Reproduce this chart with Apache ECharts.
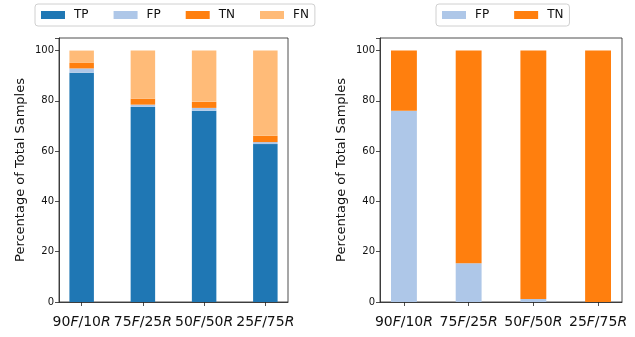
<!DOCTYPE html>
<html><head><meta charset="utf-8">
<script src="https://cdn.jsdelivr.net/npm/echarts@6/dist/echarts.min.js"></script>
<style>html,body{margin:0;padding:0;background:#fff}#c{width:635px;height:337px}</style>
</head><body><div id="c"></div>
<script>
// ---- data ----
const categories = ['90F/10R', '75F/25R', '50F/50R', '25F/75R'];
const leftTP = [91.2, 77.6, 76.1, 62.8];
const leftFP = [1.7, 0.9, 1.1, 0.8];
const leftTN = [2.2, 2.4, 2.4, 2.5];
const leftFN = [4.9, 19.1, 20.4, 33.9];
const rightFP = [76.1, 15.4, 1.2, 0];
const rightTN = [23.9, 84.6, 98.8, 100];
const yTicks = [0, 20, 40, 60, 80, 100];

// ---- styles / layout ----
const COLORS = {TP: '#1f77b4', FP: '#aec7e8', TN: '#ff7f0e', FN: '#ffbb78'};
const FONT = 'DejaVu Sans';
const W = 635;
const SPAN = 3.74; // matplotlib x-range in category units
const frameL = {left: 59, right: 347, top: 38, bottom: 35};
const frameR = {left: 380, right: 13, top: 38, bottom: 35};
function barGrid(f) {
  const w = W - f.left - f.right;
  const extra = (4 * w / SPAN - w) / 2;
  return {left: f.left - extra, right: f.right - extra, top: f.top, bottom: f.bottom, show: false};
}
const LINE = {color: '#222', width: 0.8};

function frameX(gi) {
  return {type: 'value', gridIndex: gi, min: 0, max: 1,
    axisLine: {show: true, onZero: false, lineStyle: LINE},
    axisTick: {show: false}, axisLabel: {show: false}, splitLine: {show: false}};
}
function frameY(gi) {
  return {
    type: 'value', gridIndex: gi, min: 0, max: 105, interval: 20,
    name: 'Percentage of Total Samples', nameLocation: 'middle', nameGap: 32,
    nameTextStyle: {fontFamily: FONT, fontSize: 13, color: '#111'},
    splitLine: {show: false},
    axisLine: {show: true, onZero: false, lineStyle: LINE},
    axisTick: {show: true, length: 4, inside: false, lineStyle: LINE},
    axisLabel: {fontFamily: FONT, fontSize: 10, color: '#111', margin: 5,
      formatter: v => yTicks.includes(v) ? String(v) : ''}
  };
}
function barX(gi) {
  return {
    type: 'category', gridIndex: gi, data: categories, boundaryGap: true,
    axisLine: {show: false},
    axisTick: {show: true, interval: 0, alignWithLabel: true, length: 4, inside: false, lineStyle: LINE},
    axisLabel: {
      show: true, interval: 0, hideOverlap: false, margin: 13, color: '#111', fontFamily: FONT, fontSize: 14,
      formatter: c => c.replace(/([FR])/g, '{i|$1}'),
      rich: {i: {fontStyle: 'italic', fontFamily: FONT, fontSize: 14, color: '#111'}}
    }
  };
}
function barY(gi) {
  return {type: 'value', gridIndex: gi, min: 0, max: 105, show: false,
    axisLine: {show: false}, splitLine: {show: false}};
}
function bar(name, vals, gi, stack) {
  return {
    type: 'bar', name: name, xAxisIndex: gi, yAxisIndex: gi, stack: stack,
    barWidth: '40%', itemStyle: {color: COLORS[name]},
    data: vals, animation: false
  };
}
const legendCommon = {
  top: 4, itemWidth: 24, itemHeight: 8, itemGap: 25, icon: 'rect',
  padding: [5, 6], borderColor: '#d0d0d0', borderWidth: 1, borderRadius: 3,
  textStyle: {fontFamily: FONT, fontSize: 12, color: '#111', padding: [0, 0, 0, 4]}
};
const frameStyle = {show: true, borderColor: '#222', borderWidth: 0.8, backgroundColor: 'transparent'};
const chart = echarts.init(document.getElementById('c'), null, {renderer: 'canvas'});
chart.setOption({
  animation: false,
  backgroundColor: '#fff',
  grid: [
    Object.assign({}, frameStyle, frameL),
    Object.assign({}, frameStyle, frameR),
    barGrid(frameL),
    barGrid(frameR)
  ],
  legend: [
    Object.assign({left: 35, data: ['TP', 'FP', 'TN', 'FN']}, legendCommon),
    Object.assign({left: 436, data: ['FP', 'TN']}, legendCommon)
  ],
  xAxis: [frameX(0), frameX(1), barX(2), barX(3)],
  yAxis: [frameY(0), frameY(1), barY(2), barY(3)],
  series: [
    bar('TP', leftTP, 2, 'L'),
    bar('FP', leftFP, 2, 'L'),
    bar('TN', leftTN, 2, 'L'),
    bar('FN', leftFN, 2, 'L'),
    bar('FP', rightFP, 3, 'R'),
    bar('TN', rightTN, 3, 'R')
  ]
});
</script></body></html>
